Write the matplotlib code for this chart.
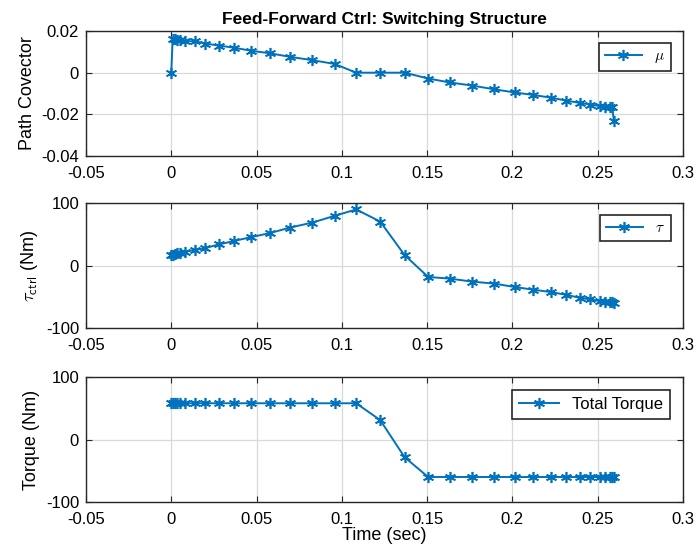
import matplotlib
matplotlib.use("Agg")
import matplotlib.pyplot as plt
from matplotlib.ticker import FuncFormatter

plt.rcParams['font.family'] = ['Liberation Sans', 'DejaVu Sans']
plt.rcParams['mathtext.fontset'] = 'cm'

# time samples (sec)
t = [0, 0.0008, 0.002, 0.0035, 0.005, 0.008, 0.0137, 0.020, 0.028, 0.0367, 0.047,
     0.058, 0.0696, 0.0827, 0.0957, 0.1084, 0.1225, 0.1368, 0.1506, 0.1633, 0.1765,
     0.1894, 0.2014, 0.2122, 0.2226, 0.2314, 0.2394, 0.2457, 0.2516, 0.2545, 0.2570,
     0.2585, 0.2595]

mu = [0, 0.0163, 0.0160, 0.0158, 0.0156, 0.0151, 0.0151, 0.0140, 0.0130, 0.0120,
      0.0105, 0.0093, 0.0076, 0.0060, 0.0042, 0, 0, 0, -0.0028, -0.0047, -0.0062,
      -0.0080, -0.0095, -0.0107, -0.0120, -0.0134, -0.0145, -0.0153, -0.0161,
      -0.0164, -0.0166, -0.0167, -0.0231]

tau = [16.6, 17.5, 18.5, 19.5, 20.5, 22, 24.7, 28, 33.8, 39.2, 45.6, 52, 60.7, 68.7,
       79.5, 89.7, 70.3, 16.6, -18.3, -21, -25.8, -29, -34.4, -38.7, -42.5, -46.8,
       -51.6, -54.3, -57, -58, -58.5, -59, -59.5]

torque = [58] * 16 + [31, -28.4] + [-60] * 15

blue = '#0072BD'
axis_col = '#262626'
fmt = FuncFormatter(lambda v, p: ('%g' % round(v, 4)) if abs(v) > 1e-9 else '0')

fig = plt.figure(figsize=(6.97, 5.52), dpi=100)
left, width, height = 0.1234, 0.8565, 0.2264
bottoms = [0.7174, 0.4058, 0.0906]

panels = [
    (mu, r'$\mu$', 'Path Covector', (-0.04, 0.02), [-0.04, -0.02, 0, 0.02], 11),
    (tau, r'$\tau$', r'$\tau_{\mathsf{ctrl}}$ (Nm)', (-100, 100), [-100, 0, 100], 11),
    (torque, 'Total Torque', 'Torque (Nm)', (-100, 100), [-100, 0, 100], 12),
]

for i, (vals, lab, ylab, ylim, yticks, legsize) in enumerate(panels):
    ax = fig.add_axes([left, bottoms[i], width, height])
    # six-armed asterisk like MATLAB's '*'
    ax.plot(t, vals, color=blue, marker=(6, 2, 0), markersize=8, linewidth=1.4,
            markeredgewidth=1.2, label=lab)
    ax.set_xlim(-0.05, 0.3)
    ax.set_xticks([-0.05, 0, 0.05, 0.1, 0.15, 0.2, 0.25, 0.3])
    ax.set_ylim(*ylim)
    ax.set_yticks(yticks)
    ax.xaxis.set_major_formatter(fmt)
    ax.yaxis.set_major_formatter(fmt)
    ax.grid(True, color='#d9d9d9', linewidth=0.9)
    ax.set_axisbelow(True)
    for s in ax.spines.values():
        s.set_color(axis_col)
        s.set_linewidth(1.0)
    ax.tick_params(direction='in', top=True, right=True, labelsize=12,
                   colors=axis_col, length=4)
    ax.tick_params(axis='x', pad=7)
    ax.tick_params(axis='y', pad=5)
    for tl in ax.get_xticklabels() + ax.get_yticklabels():
        tl.set_color('black')
    ax.set_ylabel(ylab, fontsize=13, labelpad=4)
    leg = ax.legend(loc='upper right', fontsize=legsize, fancybox=False,
                    framealpha=1, edgecolor=axis_col, borderaxespad=0.8,
                    handlelength=2.4)
    leg.get_frame().set_linewidth(1.2)
    if i == 0:
        ax.set_title('Feed-Forward Ctrl: Switching Structure', fontsize=12.5,
                     fontweight='bold', pad=5)
    if i == 2:
        ax.set_xlabel('Time (sec)', fontsize=13, labelpad=0)

fig.savefig('out.png', dpi=100)
